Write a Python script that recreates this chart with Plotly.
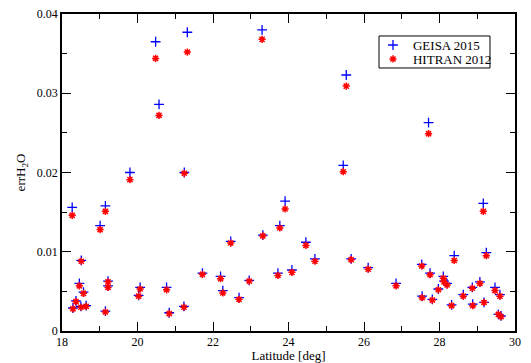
import plotly.graph_objects as go

# Latitude of each sounding [deg]
latitude = [
    18.27, 18.29, 18.37, 18.46, 18.51, 18.50, 18.57, 18.64, 19.01, 19.15,
    19.15, 19.22, 19.22, 19.80, 20.03, 20.07, 20.48, 20.57, 20.77, 20.84,
    21.23, 21.24, 21.32, 21.72, 22.20, 22.26, 22.47, 22.69, 22.96, 23.30,
    23.32, 23.72, 23.77, 23.91, 24.09, 24.46, 24.70, 25.45, 25.53, 25.66,
    26.11, 26.85, 27.53, 27.54, 27.71, 27.75, 27.81, 27.97, 28.10, 28.12,
    28.20, 28.32, 28.39, 28.63, 28.87, 28.88, 29.07, 29.16, 29.18, 29.24,
    29.47, 29.56, 29.60, 29.63,
]

# Water vapour retrieval error with GEISA 2015 spectroscopy
err_geisa = [
    0.0156, 0.0029, 0.0038, 0.0060, 0.0089, 0.0031, 0.0049, 0.0032, 0.0133, 0.0158,
    0.0025, 0.0063, 0.0057, 0.0200, 0.0045, 0.0055, 0.0365, 0.0286, 0.0055, 0.0023,
    0.0031, 0.0200, 0.0377, 0.0073, 0.0069, 0.0051, 0.0113, 0.0042, 0.0064, 0.0380,
    0.0121, 0.0073, 0.0133, 0.0164, 0.0077, 0.0112, 0.0091, 0.0209, 0.0323, 0.0091,
    0.0080, 0.0060, 0.0084, 0.0044, 0.0263, 0.0073, 0.0040, 0.0053, 0.0069, 0.0063,
    0.0060, 0.0033, 0.0095, 0.0046, 0.0055, 0.0034, 0.0062, 0.0161, 0.0036, 0.0099,
    0.0055, 0.0021, 0.0046, 0.0019,
]

# Water vapour retrieval error with HITRAN 2012 spectroscopy
err_hitran = [
    0.0146, 0.0028, 0.0037, 0.0057, 0.0088, 0.0030, 0.00475, 0.0031, 0.0128, 0.0151,
    0.0024, 0.0062, 0.0055, 0.0191, 0.0044, 0.0053, 0.0344, 0.0272, 0.0052, 0.0022,
    0.0030, 0.0199, 0.0352, 0.00715, 0.0066, 0.0048, 0.0111, 0.0040, 0.0063, 0.0368,
    0.0120, 0.0070, 0.0130, 0.0154, 0.0074, 0.0108, 0.0088, 0.0201, 0.0309, 0.0090,
    0.0078, 0.0057, 0.0082, 0.0042, 0.0249, 0.0071, 0.0039, 0.0052, 0.00665, 0.0062,
    0.0058, 0.0032, 0.0089, 0.0044, 0.0054, 0.0032, 0.0060, 0.0151, 0.0036, 0.0095,
    0.0051, 0.0021, 0.0044, 0.0018,
]

font_family = "Liberation Serif"

fig = go.Figure()
fig.add_trace(go.Scatter(
    x=latitude, y=err_geisa, mode="markers", name="GEISA 2015", legend="legend",
    marker=dict(symbol="cross-thin", size=7, color="#0000ff",
                line=dict(color="#0000ff", width=1.3)),
))
fig.add_trace(go.Scatter(
    x=latitude, y=err_hitran, mode="markers", name="HITRAN 2012", legend="legend2",
    marker=dict(symbol="asterisk", size=6, color="#ff0000",
                line=dict(color="#ff0000", width=1.5)),
))

axis_common = dict(
    showgrid=False, zeroline=False, automargin=False,
    showline=True, linecolor="black", linewidth=1.5, mirror="ticks",
    ticks="inside", ticklen=9, tickwidth=1.2, tickcolor="black",
    tickfont=dict(family=font_family, size=12, color="black"),
)

fig.update_xaxes(
    range=[18, 30], dtick=2, tick0=18, ticklabelstandoff=-1,
    minor=dict(dtick=1, ticks="inside", ticklen=5, tickwidth=1.2, tickcolor="black"),
    title=dict(text="Latitude [deg]", font=dict(family=font_family, size=13, color="black"),
               standoff=0),
    **axis_common,
)
fig.update_yaxes(
    range=[0, 0.04], dtick=0.01, tick0=0, tickformat="~g",
    minor=dict(dtick=0.005, ticks="inside", ticklen=5, tickwidth=1.2, tickcolor="black"),
    title=dict(text="errH<sub>2</sub>O", font=dict(family=font_family, size=13, color="black"),
               standoff=8),
    **axis_common,
)

# Legend frame: one box around both entries
fig.add_shape(
    type="rect", xref="paper", yref="paper",
    x0=0.6998, x1=0.9448, y0=0.8297, y1=0.9306,
    line=dict(color="black", width=1), fillcolor="white", layer="above",
)

legend_common = dict(
    xanchor="left", yanchor="middle", x=0.6865,
    bgcolor="rgba(0,0,0,0)", borderwidth=0,
    font=dict(family=font_family, size=13, color="black"),
    itemwidth=30,
)

fig.update_layout(
    width=531, height=363,
    margin=dict(l=62, r=16, t=14, b=32),
    paper_bgcolor="white", plot_bgcolor="white",
    showlegend=True,
    legend=dict(y=0.902, **legend_common),
    legend2=dict(y=0.858, **legend_common),
)

fig.write_html("out.html")
